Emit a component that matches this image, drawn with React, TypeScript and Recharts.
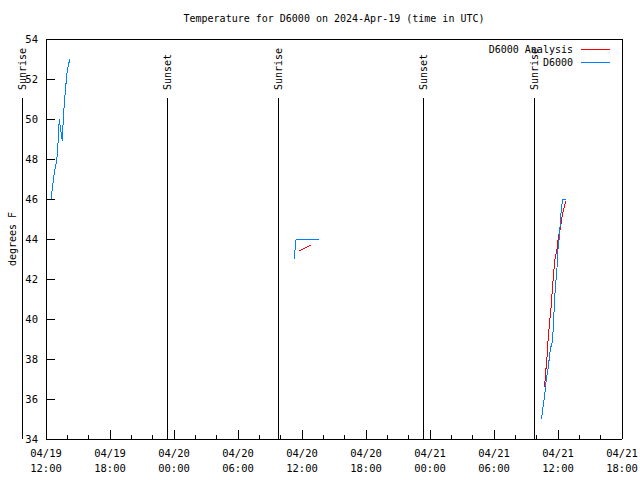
import { LineChart, Line, XAxis, YAxis, ReferenceLine, Legend } from 'recharts'

document.body.style.margin = '0'

const FONT = '"DejaVu Sans Mono", monospace'
const RED = '#ff0000'
const BLUE = '#0080ff'

// times are hours after 04/19 12:00 UTC, null temp = gap in the record
const obsHours = [0.47, 0.59, 0.78, 0.87, 1.0, 1.1, 1.19, 1.25, 1.31, 1.44, 1.53, 1.62, 1.75, 1.88, 1.97, 2.09, 2.25,
  12, 23.26, 23.39, 23.45, 25.61,
  36, 46.46, 46.59, 46.75, 46.9, 47.09, 47.28, 47.44, 47.56, 47.63, 47.72, 47.84, 47.94, 48.0, 48.1, 48.19, 48.28, 48.37, 48.43, 48.75]
const obsTemps = [46.0, 46.5, 47.3, 47.6, 47.9, 48.5, 49.5, 50.0, 49.7, 49.2, 48.9, 50.0, 51.0, 51.8, 52.3, 52.7, 53.0,
  null, 43.0, 43.7, 44.0, 44.0,
  null, 35.0, 35.6, 36.2, 36.95, 37.6, 38.5, 38.8, 39.5, 40.4, 41.3, 42.1, 42.8, 43.5, 44.0, 44.6, 45.3, 45.7, 46.0, 46.0]

const anaHours = [0.76, 0.81,
  12, 23.76, 24.3, 24.86,
  36, 46.74, 46.84, 46.97, 47.09, 47.21, 47.35, 47.47, 47.59, 47.72, 47.91, 48.03, 48.22, 48.34, 48.53, 48.75]
const anaTemps = [47.35, 47.45,
  null, 43.4, 43.55, 43.7,
  null, 36.6, 37.3, 38.1, 39.1, 39.8, 40.6, 41.5, 42.3, 43.0, 43.5, 44.1, 44.5, 45.0, 45.5, 45.9]

const seriesNames = ['D6000 Analysis', 'D6000']

const sunHours = [-2.22, 11.38, 21.8, 35.43, 45.83]
const sunNames = ['Sunrise', 'Sunset', 'Sunrise', 'Sunset', 'Sunrise']

// every 2 h gets a small tick, every 6 h a big one with a label
const timeTicks = [0, 2, 4, 6, 8, 10, 12, 14, 16, 18, 20, 22, 24, 26, 28, 30, 32, 34, 36, 38, 40, 42, 44, 46, 48, 50, 52, 54]
const tempTicks = [34, 36, 38, 40, 42, 44, 46, 48, 50, 52, 54]

const obs = obsHours.map((t, i) => ({ t, v: obsTemps[i] }))
const ana = anaHours.map((t, i) => ({ t, v: anaTemps[i] }))

const pad = (n: number) => String(n).padStart(2, '0')
function stamp(h: number) {
  const total = 12 + h
  const day = 19 + Math.floor(total / 24)
  return ['04/' + pad(day), pad(total % 24) + ':00']
}

function TimeTick({ x, y, payload, top }: any) {
  const major = payload.value % 6 === 0
  const len = major ? 9 : 4
  const dir = top ? 1 : -1
  if (top || !major) {
    return <line x1={x} x2={x} y1={y} y2={y + dir * len} stroke="#000" />
  }
  const [d, t] = stamp(payload.value)
  return (
    <g>
      <line x1={x} x2={x} y1={y} y2={y - len} stroke="#000" />
      <text x={x} y={y + 18} textAnchor="middle" fontFamily={FONT} fontSize={10.5} fill="#000">
        <tspan x={x}>{d}</tspan>
        <tspan x={x} dy={15}>{t}</tspan>
      </text>
    </g>
  )
}

function SunLabel({ viewBox, text }: any) {
  if (!viewBox) return null
  const x = viewBox.x
  const y = viewBox.y - 8
  return (
    <text x={x} y={y} transform={`rotate(-90 ${x} ${y})`} dominantBaseline="central"
      fontFamily={FONT} fontSize={10} fill="#000">{text}</text>
  )
}

function YTitle({ viewBox }: any) {
  const x = 12
  const y = viewBox.y + viewBox.height / 2
  return (
    <text x={x} y={y} transform={`rotate(-90 ${x} ${y})`} textAnchor="middle" dominantBaseline="central"
      fontFamily={FONT} fontSize={10} fill="#000">degrees F</text>
  )
}

function Key({ payload }: any) {
  const items = seriesNames.map((n) => (payload || []).find((p: any) => p.value === n)).filter(Boolean)
  return (
    <div style={{ fontFamily: FONT, fontSize: 10, color: '#000' }}>
      {items.map((p: any) => (
        <div key={p.value} style={{ display: 'flex', justifyContent: 'flex-end', alignItems: 'center', height: 13 }}>
          <span>{p.value}</span>
          <span style={{ width: 29, borderTop: `1px solid ${p.color}`, marginLeft: 8 }} />
        </div>
      ))}
    </div>
  )
}

export default function App() {
  return (
    <div style={{ position: 'relative', width: 640, height: 480, background: '#fff', shapeRendering: 'crispEdges' }}>
      <div style={{ position: 'absolute', left: 334, top: 13, transform: 'translateX(-50%)', whiteSpace: 'nowrap',
        fontFamily: FONT, fontSize: 10, lineHeight: '12px', color: '#000' }}>
        Temperature for D6000 on 2024-Apr-19 (time in UTC)
      </div>
      <LineChart width={640} height={480} margin={{ top: 38, right: 17, left: 0, bottom: 0 }}>
        <XAxis dataKey="t" type="number" domain={[0, 54]} allowDataOverflow ticks={timeTicks} interval={0}
          height={41} tickSize={0} tickMargin={0} tickLine={false} stroke="#000" tick={<TimeTick />} />
        <XAxis xAxisId="top" orientation="top" type="number" domain={[0, 54]} allowDataOverflow ticks={timeTicks}
          interval={0} height={1} tickSize={0} tickMargin={0} tickLine={false} stroke="#000" tick={<TimeTick top />} />
        <YAxis type="number" domain={[34, 54]} allowDataOverflow ticks={tempTicks} interval={0} width={46}
          tickSize={-9} tickMargin={17} stroke="#000"
          tick={{ fill: '#000', fontSize: 10.5, fontFamily: FONT }}
          label={<YTitle />} />
        <YAxis yAxisId="r" orientation="right" type="number" domain={[34, 54]} allowDataOverflow ticks={tempTicks}
          interval={0} width={1} tick={false} tickSize={-9} stroke="#000" />
        {sunHours.map((h, i) => (
          <ReferenceLine key={i} segment={[{ x: h, y: 34 }, { x: h, y: 51.05 }]} ifOverflow="visible"
            stroke="#000" strokeWidth={1} label={<SunLabel text={sunNames[i]} />} />
        ))}
        <Line data={ana} dataKey="v" name="D6000 Analysis" type="linear" stroke={RED} strokeWidth={1}
          dot={false} connectNulls={false} isAnimationActive={false} />
        <Line data={obs} dataKey="v" name="D6000" type="linear" stroke={BLUE} strokeWidth={1}
          dot={false} connectNulls={false} isAnimationActive={false} />
        <Legend layout="horizontal" verticalAlign="middle" align="center" content={<Key />}
          wrapperStyle={{ top: 43, left: 470, width: 140, height: 26 }} />
      </LineChart>
    </div>
  )
}
